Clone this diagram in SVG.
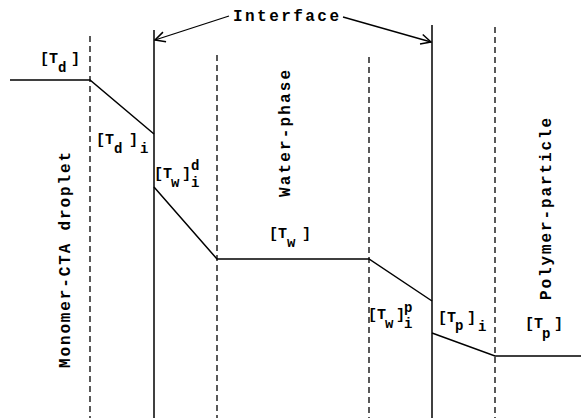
<svg xmlns="http://www.w3.org/2000/svg" width="581" height="418" viewBox="0 0 581 418">
<defs>
<style>
.t{font-family:"Liberation Mono","Courier New",monospace;font-weight:bold;fill:#000}
.lab{font-size:15px}
.sub{font-size:14px}
.big{font-size:16px}
.dash{stroke:#000;stroke-width:1.3;stroke-dasharray:6 4;fill:none}
.solid{stroke:#000;stroke-width:1.5;fill:none}
.prof{stroke:#000;stroke-width:1.5;fill:none}
</style>
<marker id="arr" viewBox="0 0 12 12" refX="11" refY="6" markerWidth="12" markerHeight="12" markerUnits="userSpaceOnUse" orient="auto">
<path d="M1,1 L11,6 L1,11" fill="none" stroke="#000" stroke-width="1.5"/>
</marker>
</defs>
<rect width="581" height="418" fill="#fff"/>
<g id="boundaries">
<line class="dash" x1="90" y1="36" x2="90" y2="418"/>
<line class="solid" x1="154" y1="30" x2="154" y2="418"/>
<line class="dash" x1="217" y1="55" x2="217" y2="418"/>
<line class="dash" x1="369" y1="57" x2="369" y2="418"/>
<line class="solid" x1="432" y1="25" x2="432" y2="418"/>
<line class="dash" x1="495" y1="27" x2="495" y2="418"/>
</g>
<g id="connectors">
<polyline class="prof" points="10,80 90,80 154,134"/>
<polyline class="prof" points="154,187 217,259 369,259 432,301"/>
<polyline class="prof" points="432,333 495,356 581,356"/>
<line x1="229" y1="16" x2="155" y2="40" stroke="#000" stroke-width="1.3" marker-end="url(#arr)"/>
<line x1="343" y1="17" x2="431" y2="42" stroke="#000" stroke-width="1.3" marker-end="url(#arr)"/>
</g>
<g id="interface-label">
<text class="t big" x="233" y="21" textLength="106" lengthAdjust="spacing">Interface</text>
</g>
<g id="droplet-region">
<text class="t big" transform="translate(70,368) rotate(-90)" textLength="216" lengthAdjust="spacing">Monomer-CTA droplet</text>
</g>
<g id="water-region">
<text class="t big" transform="translate(290,197) rotate(-90)" textLength="127" lengthAdjust="spacing">Water-phase</text>
</g>
<g id="polymer-region">
<text class="t big" transform="translate(551,300) rotate(-90)" textLength="182" lengthAdjust="spacing">Polymer-particle</text>
</g>
<g id="Td">
<text class="t lab" x="40" y="63">[T</text>
<text class="t sub" x="58" y="72">d</text>
<text class="t lab" x="71" y="63">]</text>
</g>
<g id="Tdi">
<text class="t lab" x="96" y="144">[T</text>
<text class="t sub" x="114" y="153">d</text>
<text class="t lab" x="129" y="144">]</text>
<text class="t sub" x="140" y="153">i</text>
</g>
<g id="Twdi">
<text class="t lab" x="154" y="178">[T</text>
<text class="t sub" x="171" y="187">w</text>
<text class="t lab" x="182" y="178">]</text>
<text class="t sub" x="191" y="170">d</text>
<text class="t sub" x="191" y="187">i</text>
</g>
<g id="Tw">
<text class="t lab" x="269" y="238">[T</text>
<text class="t sub" x="287" y="247">w</text>
<text class="t lab" x="302" y="238">]</text>
</g>
<g id="Twpi">
<text class="t lab" x="368" y="319">[T</text>
<text class="t sub" x="385" y="328">w</text>
<text class="t lab" x="396" y="319">]</text>
<text class="t sub" x="404" y="312">p</text>
<text class="t sub" x="404" y="328">i</text>
</g>
<g id="Tpi">
<text class="t lab" x="438" y="322">[T</text>
<text class="t sub" x="455" y="330">p</text>
<text class="t lab" x="467" y="322">]</text>
<text class="t sub" x="478" y="331">i</text>
</g>
<g id="Tp">
<text class="t lab" x="525" y="328">[T</text>
<text class="t sub" x="542" y="338">p</text>
<text class="t lab" x="554" y="328">]</text>
</g>
</svg>
